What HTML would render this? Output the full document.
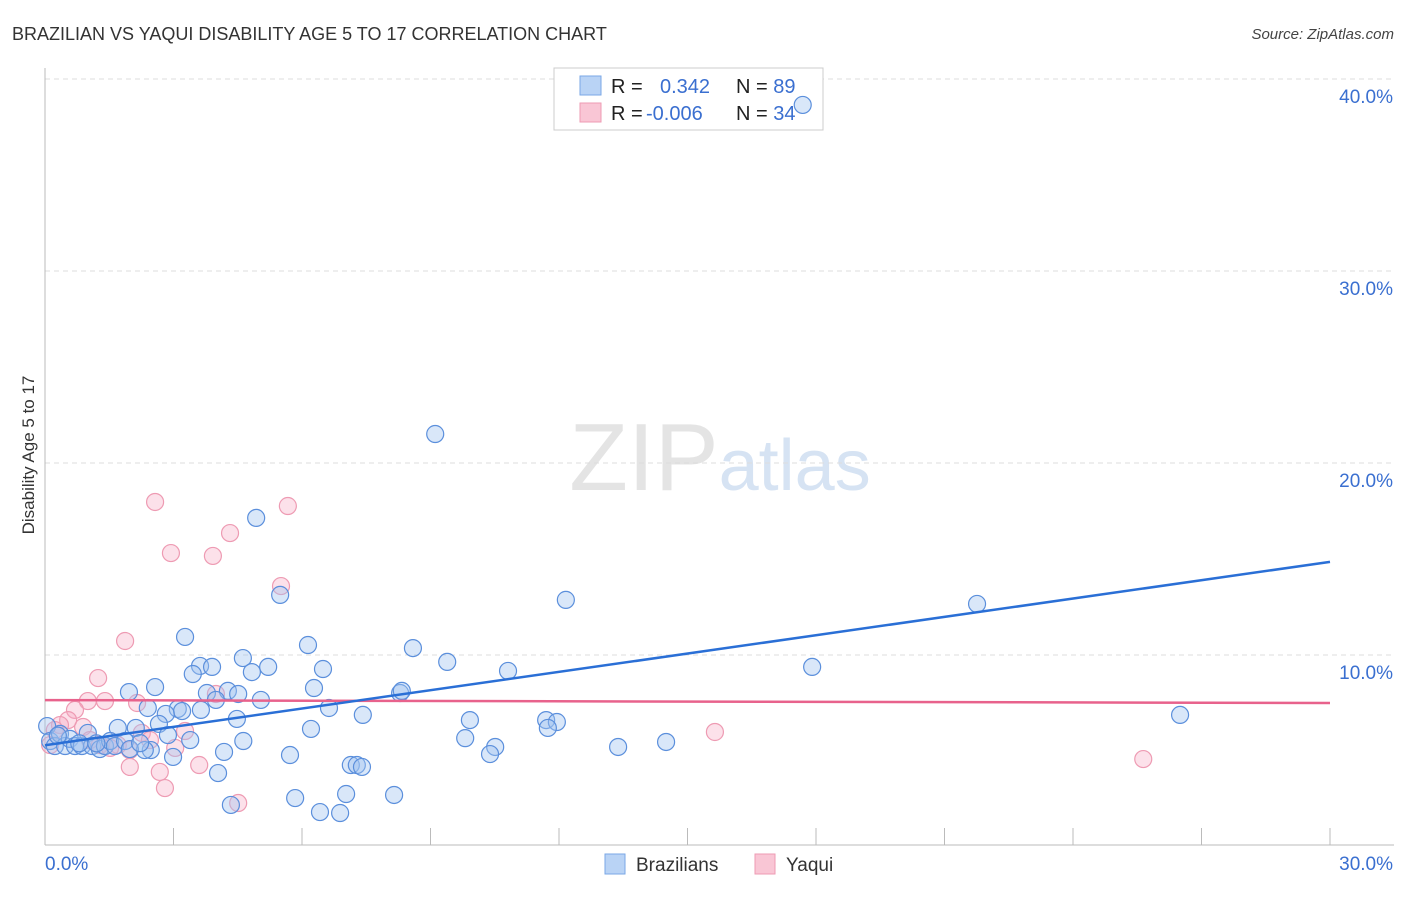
<!DOCTYPE html>
<html><head><meta charset="utf-8">
<style>
body{margin:0;background:#fff;font-family:"Liberation Sans",sans-serif;}
svg text{font-family:"Liberation Sans",sans-serif;}
</style></head>
<body>
<svg id="chart" width="1406" height="892" xmlns="http://www.w3.org/2000/svg">
<text x="12" y="40" font-size="18" fill="#333">BRAZILIAN VS YAQUI DISABILITY AGE 5 TO 17 CORRELATION CHART</text>
<text x="1394" y="39" font-size="15" fill="#444" text-anchor="end" font-style="italic">Source: ZipAtlas.com</text>
<text x="720" y="490" font-size="96" text-anchor="middle" fill="#e4e4e4" font-family="Liberation Serif">ZIP<tspan fill="#d6e3f3" font-family="Liberation Sans" font-size="72">atlas</tspan></text>
<text transform="translate(34,455) rotate(-90)" font-size="17" fill="#333" text-anchor="middle">Disability Age 5 to 17</text>
<g id="grid"></g>
<g>
<rect x="554" y="68" width="269" height="62" fill="#fff" stroke="#ccc"/>
<rect x="580" y="76" width="21" height="19" fill="#b9d3f5" stroke="#7aa7e6"/>
<rect x="580" y="103" width="21" height="19" fill="#f9c6d5" stroke="#ee9bb3"/>
<text x="611" y="93" font-size="20" fill="#222">R = <tspan fill="#3a6fd0" x="660">0.342</tspan><tspan fill="#222" x="736">N = </tspan><tspan fill="#3a6fd0">89</tspan></text>
<text x="611" y="120" font-size="20" fill="#222">R = <tspan fill="#3a6fd0" x="646">-0.006</tspan><tspan fill="#222" x="736">N = </tspan><tspan fill="#3a6fd0">34</tspan></text>
</g>
<g id="pts"></g>
<g id="lines"></g>
<g>
<rect x="605" y="854" width="20" height="20" fill="#b9d3f5" stroke="#7aa7e6"/>
<text x="636" y="871" font-size="19" fill="#333">Brazilians</text>
<rect x="755" y="854" width="20" height="20" fill="#f9c6d5" stroke="#ee9bb3"/>
<text x="786" y="871" font-size="19" fill="#333">Yaqui</text>
</g>
</svg>
<script>
const yTicks=[10,20,30,40];
const xTickLabels=["0.0%","30.0%"];
const blueX=[17.69,9.11,4.93,5.49,12.16,21.76,3.27,6.14,8.59,4.62,3.62,3.90,5.21,9.39,6.49,10.81,17.91,3.45,4.83,2.57,1.96,3.78,4.27,4.51,6.28,8.29,8.33,5.04,3.99,2.40,3.10,3.20,3.64,6.63,4.48,7.42,9.92,11.70,11.95,11.74,26.50,2.82,2.66,6.21,1.70,2.12,2.87,3.39,9.81,4.63,10.51,13.38,14.50,10.39,5.72,4.18,2.99,2.47,2.33,4.04,7.14,7.28,7.40,7.03,8.15,5.84,6.42,6.89,4.34,0.05,0.12,0.23,0.35,0.47,0.58,0.70,0.86,1.00,1.10,1.28,1.40,1.52,1.63,1.87,1.98,2.22,0.30,0.80,1.20];
const blueY=[38.65,21.51,17.14,13.13,12.87,12.66,10.94,10.52,10.36,9.84,9.43,9.38,9.38,9.64,9.27,9.17,9.38,9.01,9.11,8.33,8.07,8.02,8.13,7.97,8.28,8.02,8.13,7.66,7.66,7.24,7.19,7.08,7.14,7.24,6.67,6.88,6.61,6.61,6.51,6.20,6.88,6.93,6.41,6.15,6.20,6.20,5.83,5.57,5.67,5.52,5.21,5.21,5.47,4.84,4.79,4.95,4.69,5.05,5.05,3.85,4.27,4.27,4.17,2.76,2.71,2.55,1.82,1.77,2.19,6.30,5.52,5.26,5.89,5.26,5.63,5.26,5.26,5.94,5.26,5.10,5.26,5.52,5.26,5.52,5.10,5.41,5.80,5.40,5.40];
const pinkX=[2.57,5.67,4.32,2.94,3.92,5.51,1.87,1.24,1.00,1.40,3.99,2.15,0.70,0.54,0.35,0.23,0.89,2.26,2.45,3.04,3.27,1.28,1.70,1.98,1.52,3.60,1.98,2.68,2.80,4.51,15.64,25.64,0.12,1.05];
const pinkY=[17.97,17.76,16.35,15.31,15.16,13.59,10.73,8.80,7.60,7.60,7.97,7.50,7.14,6.61,6.35,6.09,6.25,5.94,5.57,5.16,6.04,5.31,5.31,5.05,5.16,4.27,4.17,3.91,3.07,2.29,5.99,4.58,5.31,5.57];
const blueFit=[5.3,14.85];
const pinkFit=[7.65,7.5];
const x0=45,x1=1330,yBase=847,pxPerY=19.2;
const X=v=>x0+(v/30)*(x1-x0);
const Y=v=>yBase-v*pxPerY;
const NS="http://www.w3.org/2000/svg";
function mk(tag,attrs,parent){const e=document.createElementNS(NS,tag);for(const k in attrs)e.setAttribute(k,attrs[k]);parent.appendChild(e);return e;}
const grid=document.getElementById('grid');
yTicks.forEach(t=>{
 const l=mk('line',{x1:45,x2:1394,y1:Y(t),y2:Y(t),stroke:'#ddd','stroke-dasharray':'5,4'},grid);
 
 
 const tx=mk('text',{x:1393,y:Y(t)+24,'font-size':19,fill:'#3a6fd0','text-anchor':'end'},grid);
 tx.textContent=t.toFixed(1)+'%';
 
 
});
const ax=mk('line',{x1:45,x2:45,y1:68,y2:845,stroke:'#bbb'},grid);


const bx=mk('line',{x1:45,x2:1394,y1:845,y2:845,stroke:'#bbb'},grid);


for(let i=1;i<=10;i++){const t=mk('line',{x1:X(i*3),x2:X(i*3),y1:828,y2:845,stroke:'#bbb'},grid);
 
 }
[[0,'start',45],[30,'end',1393]].forEach((d,i)=>{const t=mk('text',{x:d[2],y:870,'font-size':19,fill:'#3a6fd0','text-anchor':d[1]},grid);t.textContent=xTickLabels[i];
 
 });
const pts=document.getElementById('pts');
pinkX.forEach((v,i)=>{const c=mk('circle',{cx:X(v),cy:Y(pinkY[i]),r:8.5,fill:'rgba(246,170,195,0.35)',stroke:'#ee9bb3','stroke-width':1.2},pts);
 
 });
blueX.forEach((v,i)=>{const c=mk('circle',{cx:X(v),cy:Y(blueY[i]),r:8.5,fill:'rgba(160,195,240,0.4)',stroke:'#5b8fdc','stroke-width':1.2},pts);
 
 });
const lines=document.getElementById('lines');
const pl=mk('line',{x1:X(0),x2:X(30),y1:Y(pinkFit[0]),y2:Y(pinkFit[1]),stroke:'#e8628c','stroke-width':2.5},lines);


const bl=mk('line',{x1:X(0),x2:X(30),y1:Y(blueFit[0]),y2:Y(blueFit[1]),stroke:'#2a6fd6','stroke-width':2.5},lines);


</script>
</body></html>
